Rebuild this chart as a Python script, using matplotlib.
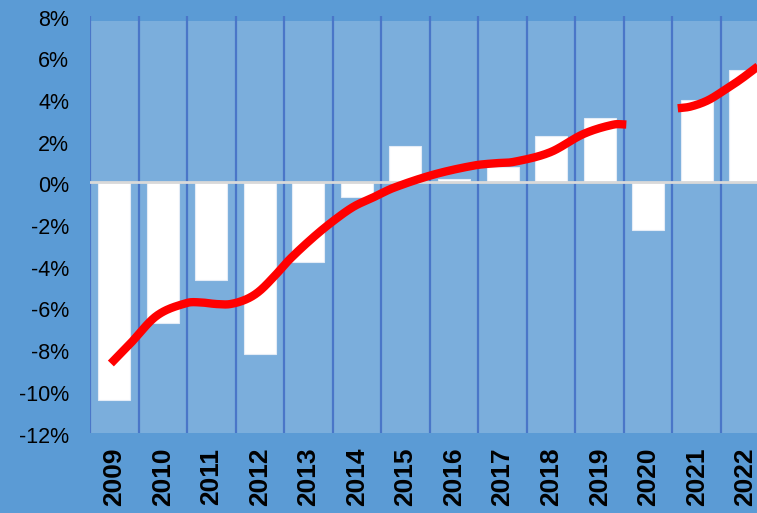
import numpy as np
import matplotlib
matplotlib.use('Agg')
import matplotlib.pyplot as plt
from matplotlib.transforms import ScaledTranslation

plt.rcParams['font.family'] = ['Liberation Sans', 'DejaVu Sans']

# ---- data ----
years = list(range(2009, 2023))
bar_values = [-10.43, -6.77, -4.67, -8.22, -3.8, -0.72, 1.76, 0.15, 0.75,
              2.24, 3.09, -2.27, 3.96, 5.41]

line1_x = [2008.93, 2009.32, 2009.875, 2010.49, 2010.77, 2011.11, 2011.39,
           2011.73, 2012.0, 2012.34, 2012.62, 2013.10, 2013.52, 2013.93,
           2014.34, 2014.75, 2015.58, 2016.40, 2016.82, 2017.23, 2017.98,
           2018.67, 2019.29, 2019.55]
line1_y = [-8.69, -7.76, -6.40, -5.79, -5.76, -5.84, -5.84,
           -5.6, -5.2, -4.4, -3.68, -2.64, -1.84, -1.17,
           -0.72, -0.27, 0.37, 0.80, 0.91, 0.98, 1.44,
           2.32, 2.77, 2.77]
line2_x = [2020.61, 2020.87, 2021.22, 2021.56, 2021.90, 2022.21, 2022.35]
line2_y = [3.55, 3.63, 3.92, 4.40, 4.93, 5.47, 5.72]

y_ticks = list(range(-12, 9, 2))
y_labels = [f"{v}%" for v in y_ticks]

# ---- colours ----
bg = '#5B9BD5'
plot_bg = '#7BAEDC'
grid_c = '#4A76C8'
zero_c = '#D9D9D9'


def smooth(xs, ys, n=30):
    xs = np.asarray(xs, float)
    ys = np.asarray(ys, float)
    m = np.zeros_like(ys)
    m[1:-1] = (ys[2:] - ys[:-2]) / (xs[2:] - xs[:-2])
    m[0] = (ys[1] - ys[0]) / (xs[1] - xs[0])
    m[-1] = (ys[-1] - ys[-2]) / (xs[-1] - xs[-2])
    ox, oy = [], []
    for i in range(len(xs) - 1):
        h = xs[i + 1] - xs[i]
        t = np.linspace(0, 1, n, endpoint=(i == len(xs) - 2))
        h00 = 2 * t**3 - 3 * t**2 + 1
        h10 = t**3 - 2 * t**2 + t
        h01 = -2 * t**3 + 3 * t**2
        h11 = t**3 - t**2
        ox.append(xs[i] + t * h)
        oy.append(h00 * ys[i] + h10 * h * m[i] + h01 * ys[i + 1] + h11 * h * m[i + 1])
    return np.concatenate(ox), np.concatenate(oy)


fig = plt.figure(figsize=(7.57, 5.13), dpi=100, facecolor=bg)
ax = fig.add_axes([90 / 757, 80.5 / 513, 679.5 / 757, 417 / 513])
ax.set_facecolor(bg)
for s in ax.spines.values():
    s.set_visible(False)

ax.set_xlim(-0.5, len(years) - 0.5)
ax.set_ylim(-12, 8)

# lighter plot region
ax.axhspan(-12, 7.72, color=plot_bg, zorder=0, lw=0)

# vertical gridlines at category boundaries
for b in np.arange(-0.5, len(years), 1.0):
    ax.axvline(b, color=grid_c, lw=1.6, zorder=1)

pos = np.arange(len(years))
ax.bar(pos, bar_values, width=0.66, color='white', edgecolor='#E4ECF6',
       linewidth=0.8, zorder=2)

ax.axhline(0, color=zero_c, lw=2.0, zorder=3)

for lx, ly in ((line1_x, line1_y), (line2_x, line2_y)):
    sx, sy = smooth(np.array(lx) - years[0], ly)
    ax.plot(sx, sy, color='#FF0000', lw=6.0, solid_capstyle='butt',
            solid_joinstyle='round', zorder=4, clip_on=False)

ax.set_yticks(y_ticks)
ax.set_yticklabels(y_labels, fontsize=15.5, color='black')
ax.tick_params(axis='y', length=0, pad=15)
offset = ScaledTranslation(0, -1.5 / 72, fig.dpi_scale_trans)
for lab in ax.get_yticklabels():
    lab.set_transform(lab.get_transform() + offset)

ax.set_xticks(pos)
ax.set_xticklabels([str(y) for y in years], rotation=90, fontsize=19,
                   fontweight='bold', color='black', va='top')
ax.tick_params(axis='x', length=0, pad=11)

fig.savefig('out.png', dpi=100, facecolor=bg)
